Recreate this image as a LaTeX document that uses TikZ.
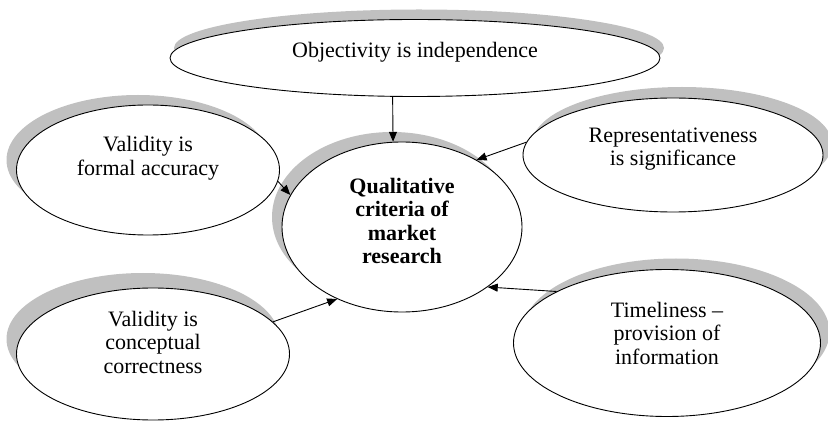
\documentclass[tikz,border=0pt]{standalone}
\usepackage{fontspec}
\setmainfont{Liberation Serif}
\usetikzlibrary{arrows.meta,shapes.geometric,shadows}
\definecolor{shgray}{HTML}{C0C0C0}
\tikzset{
  oval/.style={ellipse, draw, line width=0.9pt, fill=white, inner sep=0pt},
  shnw/.style={drop shadow={shadow xshift=-10pt, shadow yshift=#1, opacity=1, fill=shgray}},
  shnw/.default=10pt,
  shne/.style={drop shadow={shadow xshift=9pt, shadow yshift=#1, opacity=1, fill=shgray}},
  shne/.default=11pt,
  shn/.style={drop shadow={shadow xshift=4pt, shadow yshift=10pt, opacity=1, fill=shgray}},
  txt/.style={align=center},
  arr/.style={-{Triangle[length=10pt,width=8pt]}, line width=0.9pt},
}

\begin{document}
\begin{tikzpicture}[x=1pt, y=-1pt, font=\fontsize{22}{23.5}\selectfont]
  \useasboundingbox (0,0) rectangle (828,422);
  % centre
  \node[oval, shnw, minimum width=240pt, minimum height=170pt,
        label={[txt, font=\fontsize{22}{23.5}\selectfont\bfseries, yshift=6pt]center:{Qualitative\\criteria of\\market\\research}}]
        (crit) at (402,227) {};
  % criteria round it
  \node[oval, shn, minimum width=490pt, minimum height=77pt,
        label={[txt, yshift=6pt]center:{Objectivity is independence}}] (obj) at (415,58) {};
  \node[oval, shnw, minimum width=263pt, minimum height=130pt,
        label={[txt, yshift=12pt]center:{Validity is\\formal accuracy}}] (valf) at (148,170) {};
  \node[oval, shne, minimum width=300pt, minimum height=114pt,
        label={[txt, yshift=6pt]center:{Representativeness\\is significance}}] (repr) at (673,155) {};
  \node[oval, shnw=15pt, minimum width=273pt, minimum height=132pt,
        label={[txt, yshift=12pt]center:{Validity is\\conceptual\\correctness}}] (valc) at (153,354) {};
  \node[oval, shne, minimum width=307pt, minimum height=147pt,
        label={[txt, yshift=10pt]center:{Timeliness --\\provision of\\information}}] (time) at (667,343) {};

  \draw[arr] (obj.-120) -- (crit.96);
  \draw[arr] (valf.-5) -- (crit.164);
  \draw[arr] (repr.175) -- (crit.42);
  \draw[arr] (valc.15) -- (crit.228);
  \draw[arr] (time.155) -- (crit.-35);
\end{tikzpicture}
\end{document}
